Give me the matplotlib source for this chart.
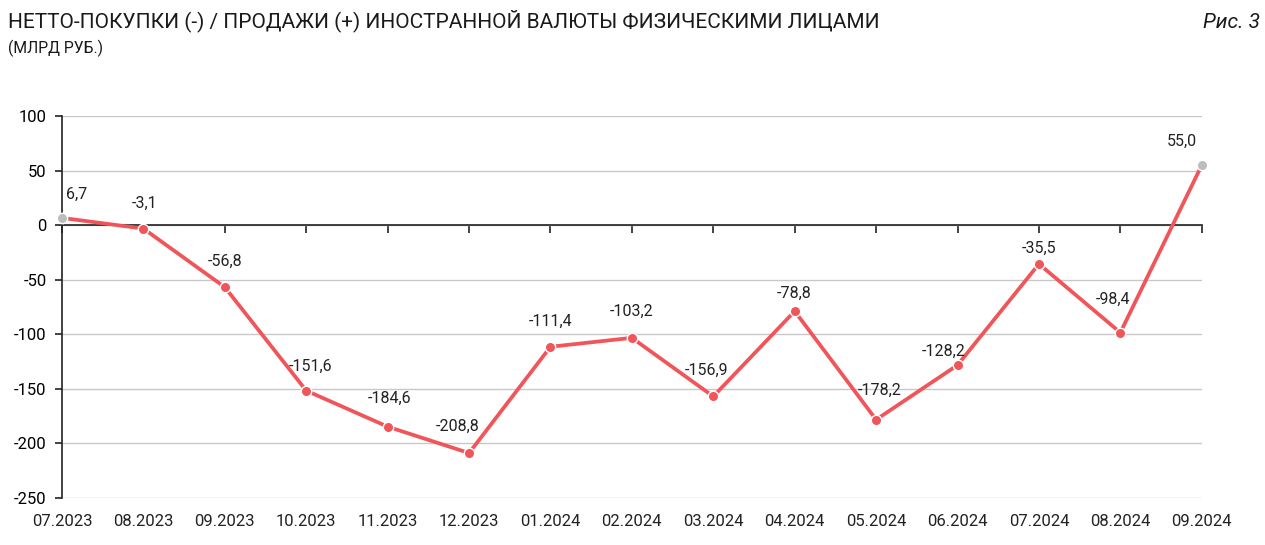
import numpy as np
import matplotlib
matplotlib.use('Agg')
from matplotlib import pyplot as plt

months = ['07.2023', '08.2023', '09.2023', '10.2023', '11.2023', '12.2023',
          '01.2024', '02.2024', '03.2024', '04.2024', '05.2024', '06.2024',
          '07.2024', '08.2024', '09.2024']
values = [6.7, -3.1, -56.8, -151.6, -184.6, -208.8, -111.4, -103.2,
          -156.9, -78.8, -178.2, -128.2, -35.5, -98.4, 55.0]
yticks = [100, 50, 0, -50, -100, -150, -200, -250]

# label nudges in pixels (dx, dy) relative to each point
label_offsets = [(15, 24), (1, 25), (0, 26), (4, 24), (2, 28), (-11, 27),
                 (0, 25), (0, 26), (-7, 26), (-1, 18), (4, 29), (-14, 14),
                 (0, 16), (-7, 33), (-20, 24)]

RED = '#F0555A'
GREY = '#BDBDBD'

plt.rcParams['font.family'] = ['Roboto', 'DejaVu Sans']

fig = plt.figure(figsize=(12.65, 5.45), dpi=100)
ax = fig.add_axes([0.049, 0.0862, 0.901, 0.7008])

x = np.arange(len(months))
ax.plot(x, values, color=RED, lw=2.7, zorder=3, solid_capstyle='round', clip_on=False)
ax.plot(x[1:-1], values[1:-1], 'o', ms=7.5, color=RED, mec='white', mew=1.0, zorder=4)
ax.plot([x[0], x[-1]], [values[0], values[-1]], 'o', ms=7.5, color=GREY,
        mec='white', mew=1.0, zorder=4, clip_on=False)

for i, v in enumerate(values):
    lbl = ('%.1f' % v).replace('.', ',')
    dx, dy = label_offsets[i]
    ax.annotate(lbl, (x[i], v), xytext=(dx, dy), textcoords='offset pixels',
                ha='center', va='center', fontsize=11.5, color='#222222')

ax.set_xlim(0, len(months) - 1)
ax.set_ylim(-250, 100)
ax.set_yticks(yticks)
ax.set_yticklabels([str(t) for t in yticks])
ax.yaxis.grid(True, color='#C8C8C8', lw=1.0)
ax.set_axisbelow(True)

# x axis sits at zero, month labels stay under the plot
ax.spines['bottom'].set_position(('data', 0))
ax.spines['bottom'].set_color('#222222')
ax.spines['bottom'].set_linewidth(1.2)
ax.spines['top'].set_visible(False)
ax.spines['right'].set_visible(False)
ax.spines['left'].set_color('#222222')
ax.spines['left'].set_linewidth(1.2)
ax.set_xticks(x)
ax.set_xticklabels([])
ax.tick_params(axis='x', direction='out', length=6, width=1.2, color='#222222')
ax.tick_params(axis='y', direction='out', length=5, width=1.2, color='#222222',
               labelsize=12, pad=6)
for i, m in enumerate(months):
    ax.annotate(m, (x[i], -250), xytext=(0, -23), textcoords='offset pixels',
                ha='center', va='center', fontsize=12, color='#222222',
                annotation_clip=False)

fig.text(0.006, 0.963, 'НЕТТО-ПОКУПКИ (-) / ПРОДАЖИ (+) ИНОСТРАННОЙ ВАЛЮТЫ ФИЗИЧЕСКИМИ ЛИЦАМИ',
         fontsize=15, ha='left', va='center', color='#1a1a1a')
fig.text(0.006, 0.912, '(МЛРД РУБ.)', fontsize=11.3, ha='left', va='center', color='#1a1a1a')
fig.text(0.996, 0.958, 'Рис. 3', fontsize=15, style='italic', ha='right', va='center',
         color='#1a1a1a')

fig.savefig('out.png', dpi=100)
